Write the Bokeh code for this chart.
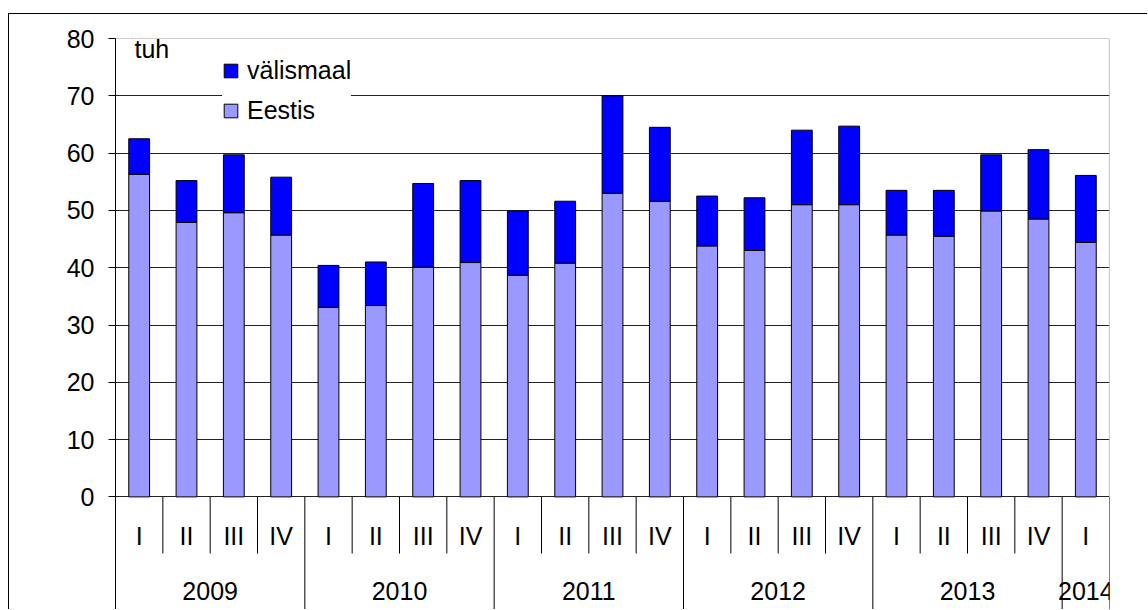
from bokeh.plotting import figure
from bokeh.models import (Range1d, FixedTicker, Legend, LegendItem, Label,
                          LabelSet, ColumnDataSource)
from bokeh.core.properties import value
from bokeh.embed import file_html
from bokeh.resources import INLINE

# ---------------- data ----------------
quarters = ["I", "II", "III", "IV", "I", "II", "III", "IV", "I", "II", "III", "IV",
            "I", "II", "III", "IV", "I", "II", "III", "IV", "I"]
years = ["2009", "2010", "2011", "2012", "2013", "2014"]
quarters_per_year = [4, 4, 4, 4, 4, 1]
eestis = [56.3, 47.9, 49.6, 45.7, 33.1, 33.4, 40.1, 40.9, 38.7, 40.8, 53.0,
          51.6, 43.8, 43.0, 51.0, 51.0, 45.7, 45.5, 49.9, 48.5, 44.4]
valismaal = [6.2, 7.3, 10.1, 10.1, 7.3, 7.6, 14.6, 14.3, 11.2, 10.8, 17.0,
             12.9, 8.7, 9.2, 13.0, 13.7, 7.8, 8.0, 9.8, 12.1, 11.7]
y_ticks = [0, 10, 20, 30, 40, 50, 60, 70, 80]
series_names = ["välismaal", "Eestis"]
unit_label = "tuh"

FONT = "Liberation Sans"
FS = "25px"
C_EESTIS = "#9999FF"
C_VALIS = "#0000FF"

# layout geometry (px)
W, H = 1139, 596
TOP = 24
PX_PER_UNIT = 5.73
FRAME_H = H - TOP
YMAX = 80.0
YMIN = YMAX - FRAME_H / PX_PER_UNIT
Q_SEP_END = -9.88
Q_LABEL_Y = -8.31
Y_LABEL_Y = -18.05

n = len(quarters)
x_centers = [i + 0.5 for i in range(n)]

p = figure(width=W, height=H, x_range=Range1d(0, n), y_range=Range1d(YMIN, YMAX),
           x_axis_type=None, output_backend="svg", toolbar_location=None,
           min_border_left=106, min_border_right=39, min_border_top=TOP,
           min_border_bottom=0, outline_line_color=None)
p.styles = {"border-top": "1px solid black", "border-left": "1px solid black",
            "margin-top": "13px", "margin-left": "8px"}

# y axis
ax = p.yaxis[0]
ax.ticker = FixedTicker(ticks=y_ticks)
ax.minor_tick_line_color = None
ax.major_tick_in = 0
ax.major_tick_out = 7
ax.axis_line_color = "black"
ax.major_tick_line_color = "black"
ax.major_label_text_font = FONT
ax.major_label_text_font_size = FS
ax.major_label_text_color = "black"
ax.major_label_standoff = 14

p.xgrid.visible = False
p.ygrid.ticker = FixedTicker(ticks=y_ticks[:-1])
p.ygrid.grid_line_color = "#222222"

# plot-area border (top and right) in grey
p.segment(x0=[0, n], y0=[YMAX, 0], x1=[n, n], y1=[YMAX, YMAX],
          line_color="#9a9a9a", line_width=1.2)

# bars
src = ColumnDataSource(dict(x=x_centers, eestis=eestis, valismaal=valismaal))
rs = p.vbar_stack(["eestis", "valismaal"], x="x", width=0.44, source=src,
                  fill_color=[C_EESTIS, C_VALIS], line_color="black", line_width=1)

# category separators
q_x, y_x = [], []
pos = 0
for k in quarters_per_year:
    for j in range(1, k):
        q_x.append(pos + j)
    pos += k
    y_x.append(pos)
p.segment(x0=q_x, y0=[0] * len(q_x), x1=q_x, y1=[Q_SEP_END] * len(q_x),
          line_color="black", line_width=1)
p.segment(x0=y_x, y0=[0] * len(y_x), x1=y_x, y1=[YMIN] * len(y_x),
          line_color="black", line_width=1)

# category labels
qsrc = ColumnDataSource(dict(x=x_centers, y=[Q_LABEL_Y] * n, text=quarters))
p.add_layout(LabelSet(x="x", y="y", text="text", source=qsrc,
                      text_align="center", text_baseline="alphabetic",
                      text_font=value(FONT), text_font_size=value(FS),
                      text_color="black"))
yc = []
pos = 0
for k in quarters_per_year:
    yc.append(pos + k / 2)
    pos += k
ysrc = ColumnDataSource(dict(x=yc, y=[Y_LABEL_Y] * len(yc), text=years))
p.add_layout(LabelSet(x="x", y="y", text="text", source=ysrc,
                      text_align="center", text_baseline="alphabetic",
                      text_font=value(FONT), text_font_size=value(FS),
                      text_color="black"))

# unit label
p.add_layout(Label(x=0.4, y=78.2, text=unit_label, text_font=FONT,
                   text_font_size=FS, text_baseline="alphabetic",
                   text_color="black"))

# legend
legend = Legend(items=[LegendItem(label=series_names[0], renderers=[rs[1]]),
                       LegendItem(label=series_names[1], renderers=[rs[0]])],
                location=(107, 485), orientation="vertical",
                label_text_font=FONT, label_text_font_size=FS,
                label_text_color="black", glyph_width=17, glyph_height=17,
                label_height=17, label_standoff=8, spacing=11, padding=10,
                margin=0, border_line_color=None,
                background_fill_color="white", background_fill_alpha=1.0)
p.add_layout(legend)

open("out.html", "w").write(file_html(p, INLINE))
